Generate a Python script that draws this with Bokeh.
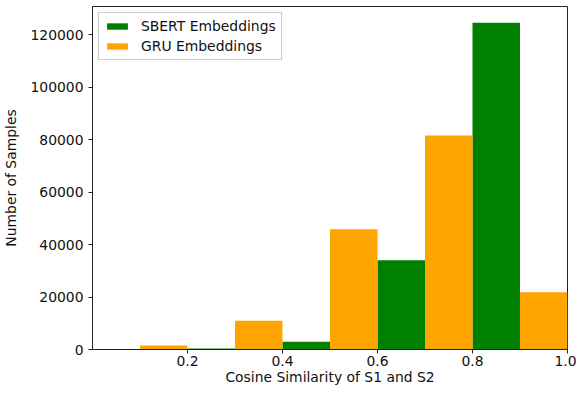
from bokeh.plotting import figure
from bokeh.models import Range1d, FixedTicker, BasicTickFormatter, PrintfTickFormatter, Legend, LegendItem, ColumnDataSource
from bokeh.embed import file_html
from bokeh.resources import INLINE

bin_width = 0.1
gru_left = [0.1, 0.3, 0.5, 0.7, 0.9]
gru_counts = [1500, 11000, 45800, 81600, 21800]
sbert_left = [0.2, 0.4, 0.6, 0.8]
sbert_counts = [400, 2950, 34000, 124500]
x_ticks = [0.2, 0.4, 0.6, 0.8, 1.0]
y_ticks = [0, 20000, 40000, 60000, 80000, 100000, 120000]

FS = "13.9px"

p = figure(width=576, height=387, output_backend="svg", toolbar_location=None,
           x_range=Range1d(0.0, 1.0), y_range=Range1d(0, 130725),
           min_border_left=92, min_border_right=9, min_border_top=6, min_border_bottom=38)

src_s = ColumnDataSource(dict(left=sbert_left, right=[v + bin_width for v in sbert_left],
                              top=sbert_counts, bottom=[0] * len(sbert_counts)))
src_g = ColumnDataSource(dict(left=gru_left, right=[v + bin_width for v in gru_left],
                              top=gru_counts, bottom=[0] * len(gru_counts)))
rs = p.quad(left="left", right="right", top="top", bottom="bottom", source=src_s,
            fill_color="#008000", line_color=None)
rg = p.quad(left="left", right="right", top="top", bottom="bottom", source=src_g,
            fill_color="#FFA500", line_color=None)

p.xgrid.visible = False
p.ygrid.visible = False
p.outline_line_color = "#222222"
p.outline_line_width = 1
p.background_fill_color = "white"
p.border_fill_color = "white"

for ax in (p.xaxis[0], p.yaxis[0]):
    ax.axis_line_color = "#222222"
    ax.major_tick_line_color = "#222222"
    ax.major_tick_out = 4
    ax.major_tick_in = 0
    ax.minor_tick_line_color = None
    ax.major_label_text_font = "DejaVu Sans"
    ax.major_label_text_font_size = FS
    ax.major_label_text_color = "#111111"
    ax.axis_label_text_font = "DejaVu Sans"
    ax.axis_label_text_font_size = FS
    ax.axis_label_text_font_style = "normal"
    ax.axis_label_text_color = "#111111"

p.xaxis[0].ticker = FixedTicker(ticks=x_ticks)
p.yaxis[0].ticker = FixedTicker(ticks=y_ticks)
p.xaxis[0].formatter = PrintfTickFormatter(format="%.1f")
p.yaxis[0].formatter = BasicTickFormatter(use_scientific=False)
p.xaxis[0].axis_label = "Cosine Similarity of S1 and S2"
p.yaxis[0].axis_label = "Number of Samples"
p.xaxis[0].major_label_standoff = 2
p.xaxis[0].axis_label_standoff = 0
p.yaxis[0].major_label_standoff = 5
p.yaxis[0].axis_label_standoff = 8

legend = Legend(items=[LegendItem(label="SBERT Embeddings", renderers=[rs]),
                       LegendItem(label="GRU Embeddings", renderers=[rg])],
                location="top_left")
legend.label_text_font = "DejaVu Sans"
legend.label_text_font_size = FS
legend.label_text_color = "#111111"
legend.border_line_color = "#cccccc"
legend.border_line_alpha = 1
legend.background_fill_alpha = 0.8
legend.glyph_width = 26
legend.glyph_height = 8
legend.spacing = 4
legend.padding = 5
legend.margin = 6
legend.label_standoff = 11
legend.label_height = 14
legend.label_width = 127
p.add_layout(legend)

open("out.html", "w").write(file_html(p, INLINE))
